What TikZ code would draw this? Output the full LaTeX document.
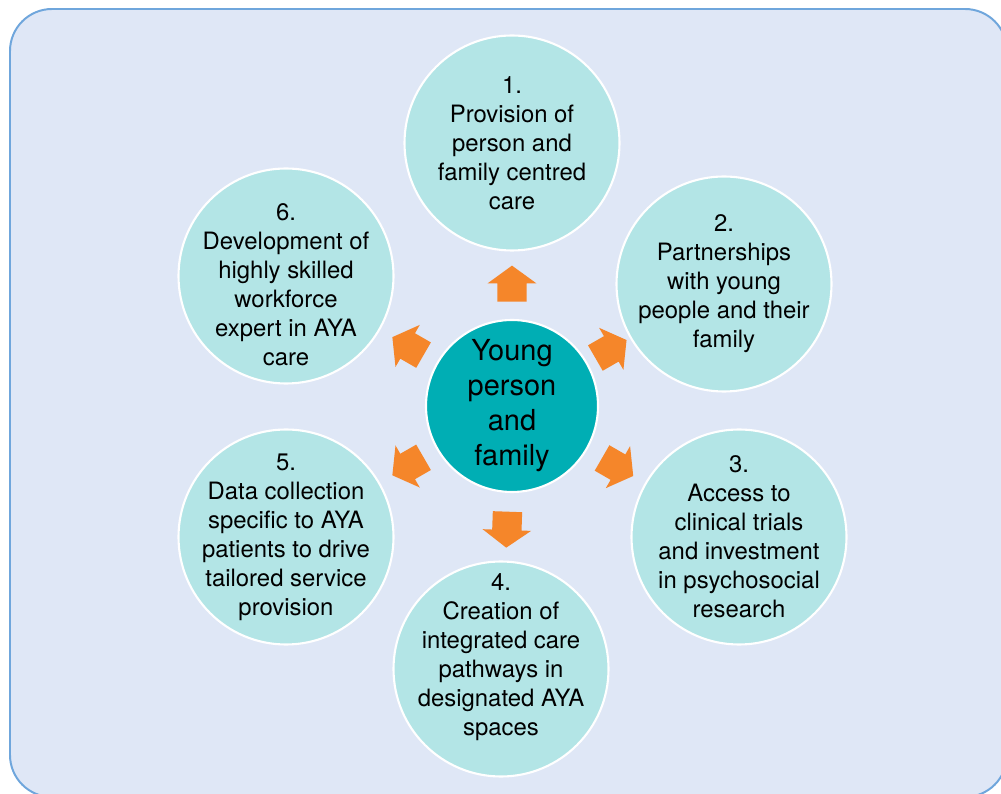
\documentclass[tikz,border=0pt]{standalone}
\usepackage{fontspec}
\setmainfont{TeX Gyre Heros}
\usetikzlibrary{shapes, arrows.meta, positioning, calc}
\usepackage{xcolor}

\definecolor{panelbg}{RGB}{223,231,246}
\definecolor{panelline}{RGB}{111,166,220}
\definecolor{aimfill}{RGB}{179,229,230}
\definecolor{corefill}{RGB}{0,174,180}
\definecolor{pushfill}{RGB}{245,134,42}

\begin{document}
\begin{tikzpicture}[
        aim/.style={circle, draw=white, line width=1.5pt, fill=aimfill, minimum size=5.375cm, inner sep=-0.6cm, align=center, font=\fontsize{17}{20.6}\selectfont},
        core/.style={circle, draw=white, line width=1.5pt, fill=corefill, minimum size=4.3cm, inner sep=-0.4cm, align=center, font=\fontsize{20.6}{24.9}\selectfont},
        push/.style={single arrow, fill=pushfill, minimum height=0.9cm, minimum width=0pt, inner xsep=0pt, inner ysep=0.36cm, single arrow head extend=0.24cm, single arrow tip angle=108}
    ]
        \useasboundingbox (0,0) rectangle (25.025,19.825);
        % Panel
        \draw [panelline, line width=1.4pt, fill=panelbg, rounded corners=1.05cm] (0.25,-0.1) rectangle (25.175,19.6);

        % Nodes
        \node [core] (centre) at (12.8,9.675) {Young\\person\\and\\family};

        \node [aim] (aim1) at (12.8,16.25) {1.\\Provision of\\person and\\family centred\\care};
        \node [aim] (aim2) at (18.1,12.725) {2.\\Partnerships\\with young\\people and their\\family};
        \node [aim] (aim3) at (18.475,6.4) {3.\\Access to\\clinical trials\\and investment\\in psychosocial\\research};
        \node [aim] (aim4) at (12.525,3.1) {4.\\Creation of\\integrated care\\pathways in\\designated AYA\\spaces\\\mbox{}};
        \node [aim] (aim5) at (7.15,6.4) {5.\\Data collection\\specific to AYA\\patients to drive\\tailored service\\provision};
        \node [aim] (aim6) at (7.15,12.925) {\mbox{}\\[4pt]6.\\Development of\\highly skilled\\workforce\\expert in AYA\\care};

        % Arrows
        \node [push, rotate=90] (push1) at ($(centre)!0.445!(aim1)$) {};
        \node [push, rotate=30] (push2) at ($(centre)!0.445!(aim2)$) {};
        \node [push, rotate=-30] (push3) at ($(centre)!0.445!(aim3)$) {};
        \node [push, rotate=-92] (push4) at ($(centre)!0.45!(aim4)$) {};
        \node [push, rotate=210] (push5) at ($(centre)!0.44!(aim5)$) {};
        \node [push, rotate=150] (push6) at ($(centre)!0.44!(aim6)$) {};
    \end{tikzpicture}
\end{document}
